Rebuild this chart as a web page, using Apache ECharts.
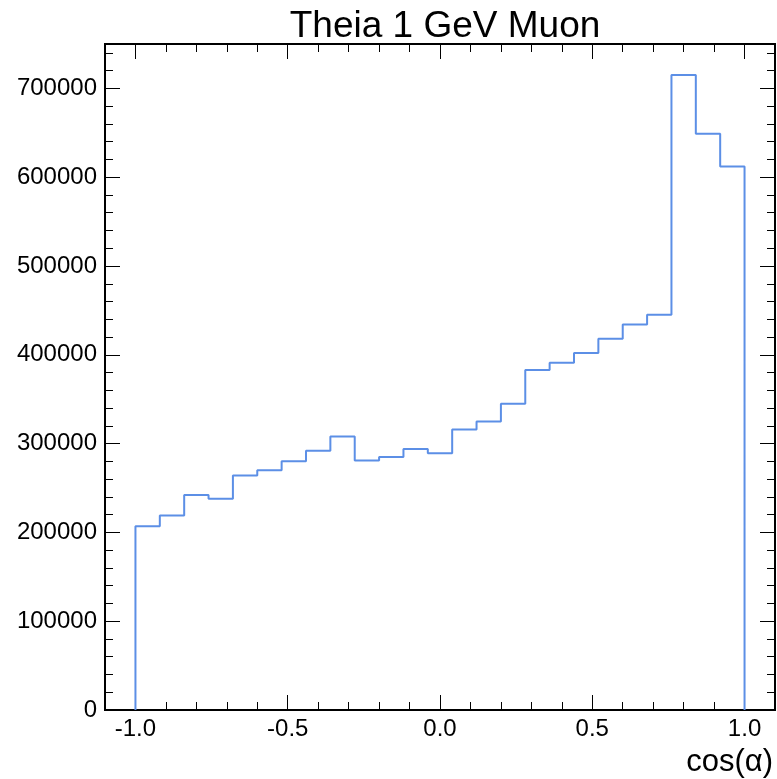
<!DOCTYPE html>
<html>
<head>
<meta charset="utf-8">
<script src="https://cdn.jsdelivr.net/npm/echarts@6/dist/echarts.min.js"></script>
<style>html,body{margin:0;padding:0;background:#fff;}#c{width:777px;height:779px;}</style>
</head>
<body>
<div id="c"></div>
<script>
const binEdges = [-1.0,-0.92,-0.84,-0.76,-0.68,-0.60,-0.52,-0.44,-0.36,-0.28,-0.20,-0.12,-0.04,0.04,0.12,0.20,0.28,0.36,0.44,0.52,0.60,0.68,0.76,0.84,0.92,1.0];
const counts = [207000,219000,242000,238000,264000,270000,280000,292000,308000,281000,285000,294000,289000,316000,325000,345000,383000,391000,402000,418000,434000,445000,715000,649000,612000];
const xMajorTicks = [-1.0,-0.5,0.0,0.5,1.0];
const xMinorTicks = [-1.0,-0.9,-0.8,-0.7,-0.6,-0.5,-0.4,-0.3,-0.2,-0.1,0.0,0.1,0.2,0.3,0.4,0.5,0.6,0.7,0.8,0.9,1.0];
const yMajorTicks = [0,100000,200000,300000,400000,500000,600000,700000];
const yMinorTicks = [0,20000,40000,60000,80000,100000,120000,140000,160000,180000,200000,220000,240000,260000,280000,300000,320000,340000,360000,380000,400000,420000,440000,460000,480000,500000,520000,540000,560000,580000,600000,620000,640000,660000,680000,700000,720000,740000];

// step outline of the histogram
const pts = [[binEdges[0], 0]];
for (let i = 0; i < counts.length; i++) {
  pts.push([binEdges[i], counts[i]]);
  pts.push([binEdges[i + 1], counts[i]]);
}
pts.push([binEdges[binEdges.length - 1], 0]);

const FONT = 'Liberation Sans, Arial, Helvetica, sans-serif';
const XMIN = -1.1, XMAX = 1.1, YMIN = 0, YMAX = 750000;

function xAx(pos, values, len, labels) {
  return {
    type: 'value', position: pos, min: XMIN, max: XMAX,
    axisLine: {show: false, onZero: false},
    splitLine: {show: false},
    axisTick: {show: true, inside: true, length: len, customValues: values, lineStyle: {color: '#000', width: 1}},
    axisLabel: labels ? {show: true, customValues: xMajorTicks, margin: 7, color: '#000', fontSize: 24, fontFamily: FONT,
      formatter: v => v.toFixed(1)} : {show: false}
  };
}
function yAx(pos, values, len, labels) {
  return {
    type: 'value', position: pos, min: YMIN, max: YMAX,
    axisLine: {show: false, onZero: false},
    splitLine: {show: false},
    axisTick: {show: true, inside: true, length: len, customValues: values, lineStyle: {color: '#000', width: 1}},
    axisLabel: labels ? {show: true, customValues: yMajorTicks, margin: 8, color: '#000', fontSize: 24, fontFamily: FONT,
      padding: [5, 0, 0, 0], formatter: v => String(v)} : {show: false}
  };
}

const chart = echarts.init(document.getElementById('c'), null, {renderer: 'canvas'});
chart.setOption({
  animation: false,
  backgroundColor: '#fff',
  title: {
    text: 'Theia 1 GeV Muon', left: 440, top: 3, textAlign: 'center',
    textStyle: {fontSize: 37, fontWeight: 'normal', color: '#000', fontFamily: FONT}
  },
  grid: {left: 105, right: 2, top: 44, bottom: 69, show: true, borderColor: '#000', borderWidth: 2, backgroundColor: 'transparent'},
  xAxis: [
    xAx('bottom', xMajorTicks, 15, true),
    xAx('bottom', xMinorTicks, 8, false),
    xAx('top', xMajorTicks, 15, false),
    xAx('top', xMinorTicks, 8, false)
  ],
  yAxis: [
    yAx('left', yMajorTicks, 15, true),
    yAx('left', yMinorTicks, 8, false),
    yAx('right', yMajorTicks, 15, false),
    yAx('right', yMinorTicks, 8, false)
  ],
  graphic: [{
    type: 'text', right: 4, bottom: 1,
    style: {text: 'cos(α)', fontSize: 31, fontFamily: FONT, fill: '#000'}
  }],
  series: [{
    type: 'line', xAxisIndex: 0, yAxisIndex: 0, data: pts,
    showSymbol: false, symbol: 'none', clip: true,
    lineStyle: {color: '#5c8fe6', width: 2}
  }]
});
</script>
</body>
</html>
